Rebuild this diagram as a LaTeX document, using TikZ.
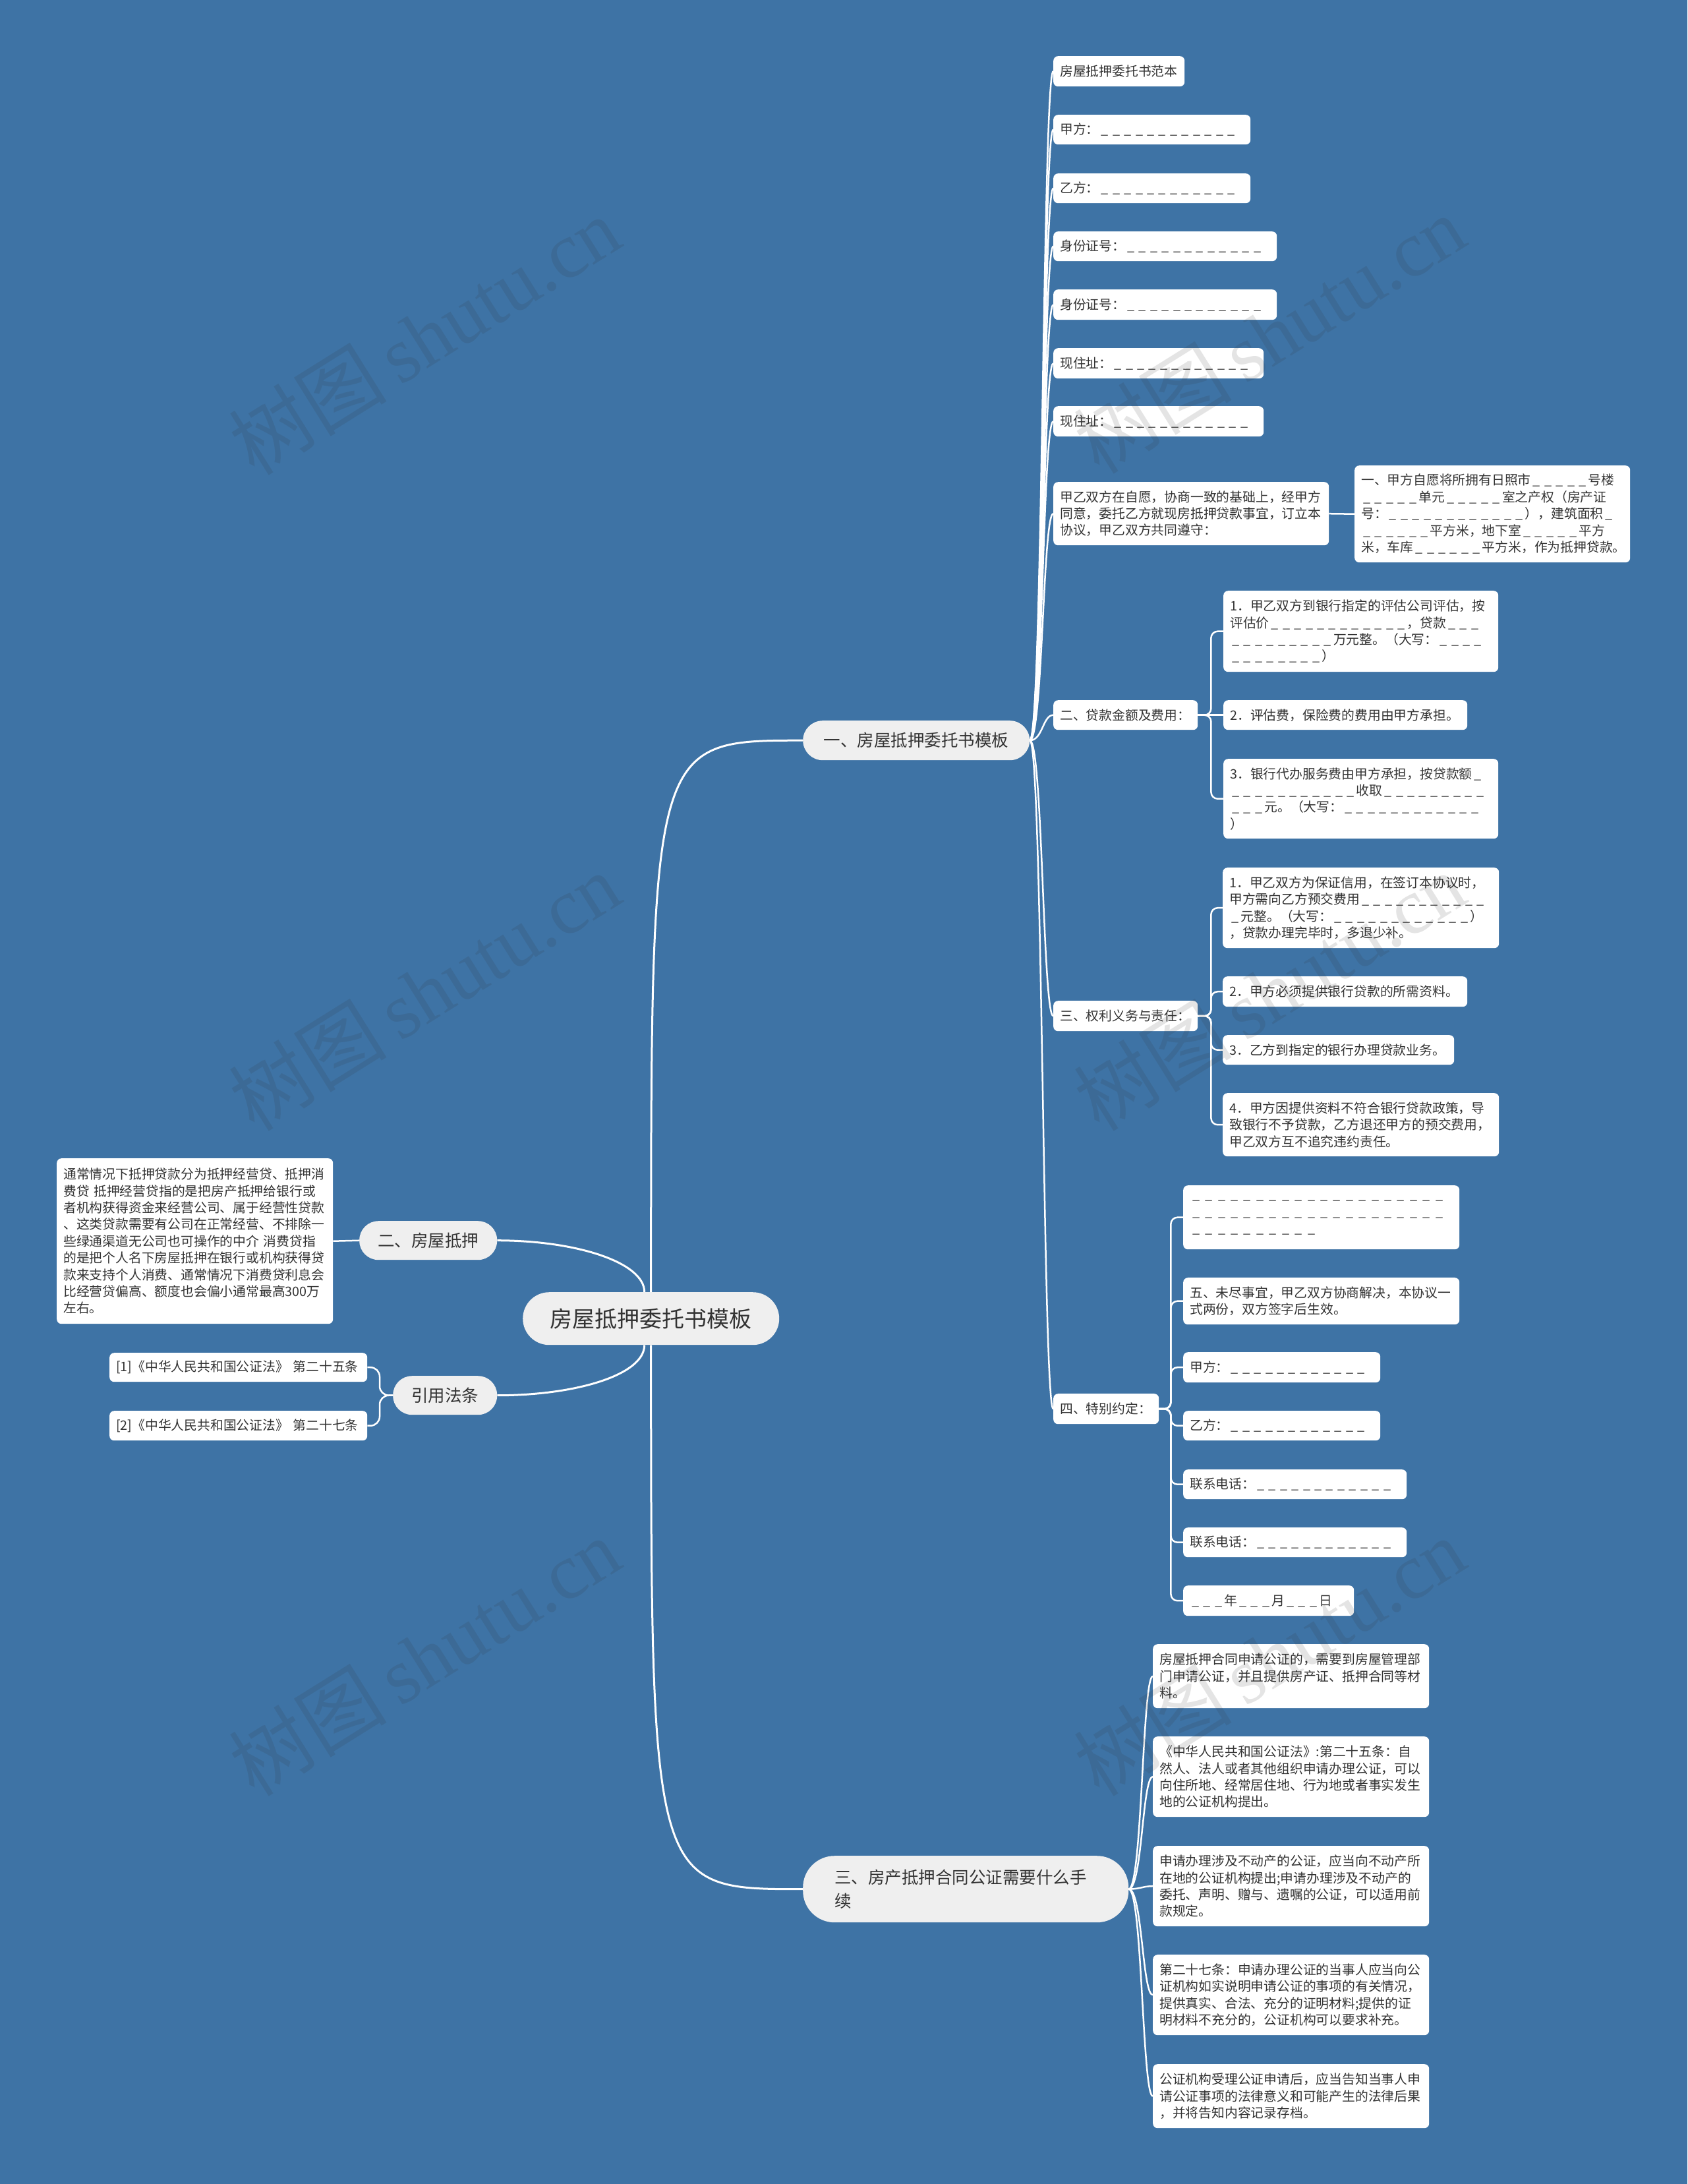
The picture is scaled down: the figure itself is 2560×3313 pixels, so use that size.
\documentclass[tikz,border=0pt]{standalone}
\usepackage{fontspec}
\setmainfont{Noto Sans CJK SC}
\newfontfamily\wmfont{Liberation Serif}
\newfontfamily\wmcjk{Noto Sans CJK SC}
\usetikzlibrary{calc}
\definecolor{bgblue}{HTML}{3E73A5}
\definecolor{txt}{HTML}{333333}
\definecolor{pillc}{HTML}{EFEFEF}
\pgfdeclarelayer{bglayer}
\pgfsetlayers{bglayer,main}
\newcommand\dsh[2][0.88em]{\foreach\k in {1,...,#2}{\makebox[#1][c]{\_}}}
\newcommand\bx[5]{\pgfmathsetmacro\tw{#3-20}\node[wbox,minimum width=#3pt,minimum height=#4pt,text width=\tw pt] (#1) at (#2) {#5};}
\begin{document}
\begin{tikzpicture}[x=1pt,y=-1pt,
  wbox/.style={rectangle,rounded corners=7pt,fill=white,anchor=north west,inner xsep=10pt,inner ysep=0pt,align=left,text=txt,font=\fontsize{19.8}{25.4}\selectfont},
  pill/.style={rectangle,fill=pillc,anchor=north west,inner sep=0pt,align=center,text=txt},
  main/.style={draw=white,line width=3pt},
  conn/.style={draw=white,line width=2.5pt},
  wm/.style={rotate=32,text=black!80,text opacity=0.13,inner sep=0pt}
]
% ---- central and first-level nodes
\node[pill,rounded corners=40pt,minimum width=389pt,minimum height=80pt,font=\fontsize{34}{40}\selectfont] (C) at (793,1960) {房屋抵押委托书模板};
\node[pill,rounded corners=30pt,minimum width=344pt,minimum height=60pt,font=\fontsize{25.5}{30}\selectfont] (L1a) at (1218,1093) {一、房屋抵押委托书模板};
\node[pill,rounded corners=29pt,minimum width=209pt,minimum height=59pt,font=\fontsize{25.5}{30}\selectfont] (L1b) at (545,1852) {二、房屋抵押};
\node[pill,rounded corners=29pt,minimum width=158pt,minimum height=59pt,font=\fontsize{25.5}{30}\selectfont] (L1c) at (596,2087) {引用法条};
\node[pill,rounded corners=48pt,minimum width=494pt,minimum height=101pt,text width=398pt,inner xsep=48pt,align=left,font=\fontsize{25.5}{36}\selectfont] (L1d) at (1218,2815) {三、房产抵押合同公证需要什么手\\续};
% ---- branch 一
\bx{a1}{1598,85}{199}{46}{房屋抵押委托书范本}
\bx{a2}{1598,174}{299}{45}{甲方：\dsh{12}}
\bx{a3}{1598,263}{299}{45}{乙方：\dsh{12}}
\bx{a4}{1598,351}{339}{45}{身份证号：\dsh{12}}
\bx{a5}{1598,439}{339}{46}{身份证号：\dsh{12}}
\bx{a6}{1598,528}{319}{46}{现住址：\dsh{12}}
\bx{a7}{1598,616}{319}{46}{现住址：\dsh{12}}
\bx{a8}{1598,731}{418}{96}{甲乙双方在自愿，协商一致的基础上，经甲方\\同意，委托乙方就现房抵押贷款事宜，订立本\\协议，甲乙双方共同遵守：}
\bx{a8c}{2055,706}{418}{147}{一、甲方自愿将所拥有日照市\dsh{5}号楼\\\dsh{5}单元\dsh{5}室之产权（房产证\\号：\dsh{12}），建筑面积\dsh{1}\\\dsh{6}平方米，地下室\dsh{5}平方\\米，车库\dsh{6}平方米，作为抵押贷款。}
\bx{b2}{1598,1062}{219}{45}{二、贷款金额及费用：}
\bx{c1}{1856,896}{417}{123}{1．甲乙双方到银行指定的评估公司评估，按\\评估价\dsh{12}，贷款\dsh{3}\\\dsh{9}万元整。（大写：\dsh{4}\\\dsh{8}）}
\bx{c2}{1856,1062}{370}{45}{2．评估费，保险费的费用由甲方承担。}
\bx{c3}{1856,1151}{417}{121}{3．银行代办服务费由甲方承担，按贷款额\dsh{1}\\\dsh{11}收取\dsh{9}\\\dsh{3}元。（大写：\dsh{12}\\）}
\bx{b3}{1598,1518}{219}{46}{三、权利义务与责任：}
\bx{e1}{1855,1316}{419}{122}{1．甲乙双方为保证信用，在签订本协议时，\\甲方需向乙方预交费用\dsh{11}\\\dsh{1}元整。（大写：\dsh{12}）\\，贷款办理完毕时，多退少补。}
\bx{e2}{1855,1481}{371}{46}{2．甲方必须提供银行贷款的所需资料。}
\bx{e3}{1855,1570}{351}{45}{3．乙方到指定的银行办理贷款业务。}
\bx{e4}{1855,1658}{419}{96}{4．甲方因提供资料不符合银行贷款政策，导\\致银行不予贷款，乙方退还甲方的预交费用，\\甲乙双方互不追究违约责任。}
\bx{b4}{1598,2114}{160}{46}{四、特别约定：}
\bx{f1}{1795,1798}{419}{97}{\dsh[0.98em]{20}\\\dsh[0.98em]{20}\\\dsh[0.98em]{10}}
\bx{f2}{1795,1938}{419}{71}{五、未尽事宜，甲乙双方协商解决，本协议一\\式两份，双方签字后生效。}
\bx{f3}{1795,2051}{299}{46}{甲方：\dsh{12}}
\bx{f4}{1795,2140}{299}{45}{乙方：\dsh{12}}
\bx{f5}{1795,2229}{339}{45}{联系电话：\dsh{12}}
\bx{f6}{1795,2317}{339}{45}{联系电话：\dsh{12}}
\bx{f7}{1795,2405}{259}{46}{\dsh{3}年\dsh{3}月\dsh{3}日}
% ---- branch 二
\bx{lt}{86,1757}{419}{251}{通常情况下抵押贷款分为抵押经营贷、抵押消\\费贷~抵押经营贷指的是把房产抵押给银行或\\者机构获得资金来经营公司、属于经营性贷款\\、这类贷款需要有公司在正常经营、不排除一\\些绿通渠道无公司也可操作的中介~消费贷指\\的是把个人名下房屋抵押在银行或机构获得贷\\款来支持个人消费、通常情况下消费贷利息会\\比经营贷偏高、额度也会偏小通常最高300万\\左右。}
% ---- 引用法条
\bx{r1}{166,2052}{391}{44}{[1]《中华人民共和国公证法》~第二十五条}
\bx{r2}{166,2140}{391}{45}{[2]《中华人民共和国公证法》~第二十七条}
% ---- branch 三
\bx{d1}{1749,2494}{419}{97}{房屋抵押合同申请公证的，需要到房屋管理部\\门申请公证，并且提供房产证、抵押合同等材\\料。}
\bx{d2}{1749,2634}{419}{122}{《中华人民共和国公证法》:第二十五条：自\\然人、法人或者其他组织申请办理公证，可以\\向住所地、经常居住地、行为地或者事实发生\\地的公证机构提出。}
\bx{d3}{1749,2800}{419}{122}{申请办理涉及不动产的公证，应当向不动产所\\在地的公证机构提出;申请办理涉及不动产的\\委托、声明、赠与、遗嘱的公证，可以适用前\\款规定。}
\bx{d4}{1749,2965}{419}{122}{第二十七条：申请办理公证的当事人应当向公\\证机构如实说明申请公证的事项的有关情况，\\提供真实、合法、充分的证明材料;提供的证\\明材料不充分的，公证机构可以要求补充。}
\bx{d5}{1749,3131}{419}{97}{公证机构受理公证申请后，应当告知当事人申\\请公证事项的法律意义和可能产生的法律后果\\，并将告知内容记录存档。}
% ---- background and connectors
\begin{pgfonlayer}{bglayer}
\fill[bgblue] (0,0) rectangle (2560,3313);
\draw[main] (C.north) .. controls (C.north |- L1a.west) .. (L1a.west);
\draw[main] (C.south) .. controls (C.south |- L1d.west) .. (L1d.west);
\draw[main] (L1b.east) .. controls +(120,0) and +(0,-45) .. ([xshift=-10pt]C.north);
\draw[main] (L1c.east) .. controls +(120,0) and +(0,45) .. ([xshift=-10pt]C.south);
\coordinate (ja) at (1582,1123);
\foreach \n in {a1,a2,a3,a4,a5,a6,a7,a8,b2,b3,b4}
  \draw[conn] (L1a.east) .. controls (ja) and (ja |- \n.west) .. (\n.west);
\coordinate (jd) at (1733,2865);
\foreach \n in {d1,d2,d3,d4,d5}
  \draw[conn] (L1d.east) .. controls (jd) and (jd |- \n.west) .. (\n.west);
\draw[conn] (a8.east) -- (a8c.west);
\foreach \n in {c1,c3}
  \draw[conn,rounded corners=10pt] (b2.east) -- ++(20,0) |- (\n.west);
\draw[conn] (b2.east) -- (c2.west);
\foreach \n in {e1,e2,e3,e4}
  \draw[conn,rounded corners=10pt] (b3.east) -- ++(20,0) |- (\n.west);
\foreach \n in {f1,f2,f3,f4,f5,f6,f7}
  \draw[conn,rounded corners=10pt] (b4.east) -- ++(18,0) |- (\n.west);
\foreach \n in {r1,r2}
  \draw[conn,rounded corners=14pt] (L1c.west) -- ++(-20,0) |- (\n.east);
\draw[conn] (L1b.west) -- (lt.east);
\end{pgfonlayer}
% ---- watermarks
\foreach \x/\y/\nm in {644/509/wma,1926/507/wmb,644/1504/wmc,1926/1504/wmd,644/2513/wme,1926/2513/wmf}
  \node[wm] (\nm) at (\x,\y) {\fontsize{120}{130}\selectfont{\wmcjk 树图}\,{\wmfont shutu.cn}};
\end{tikzpicture}
\end{document}
